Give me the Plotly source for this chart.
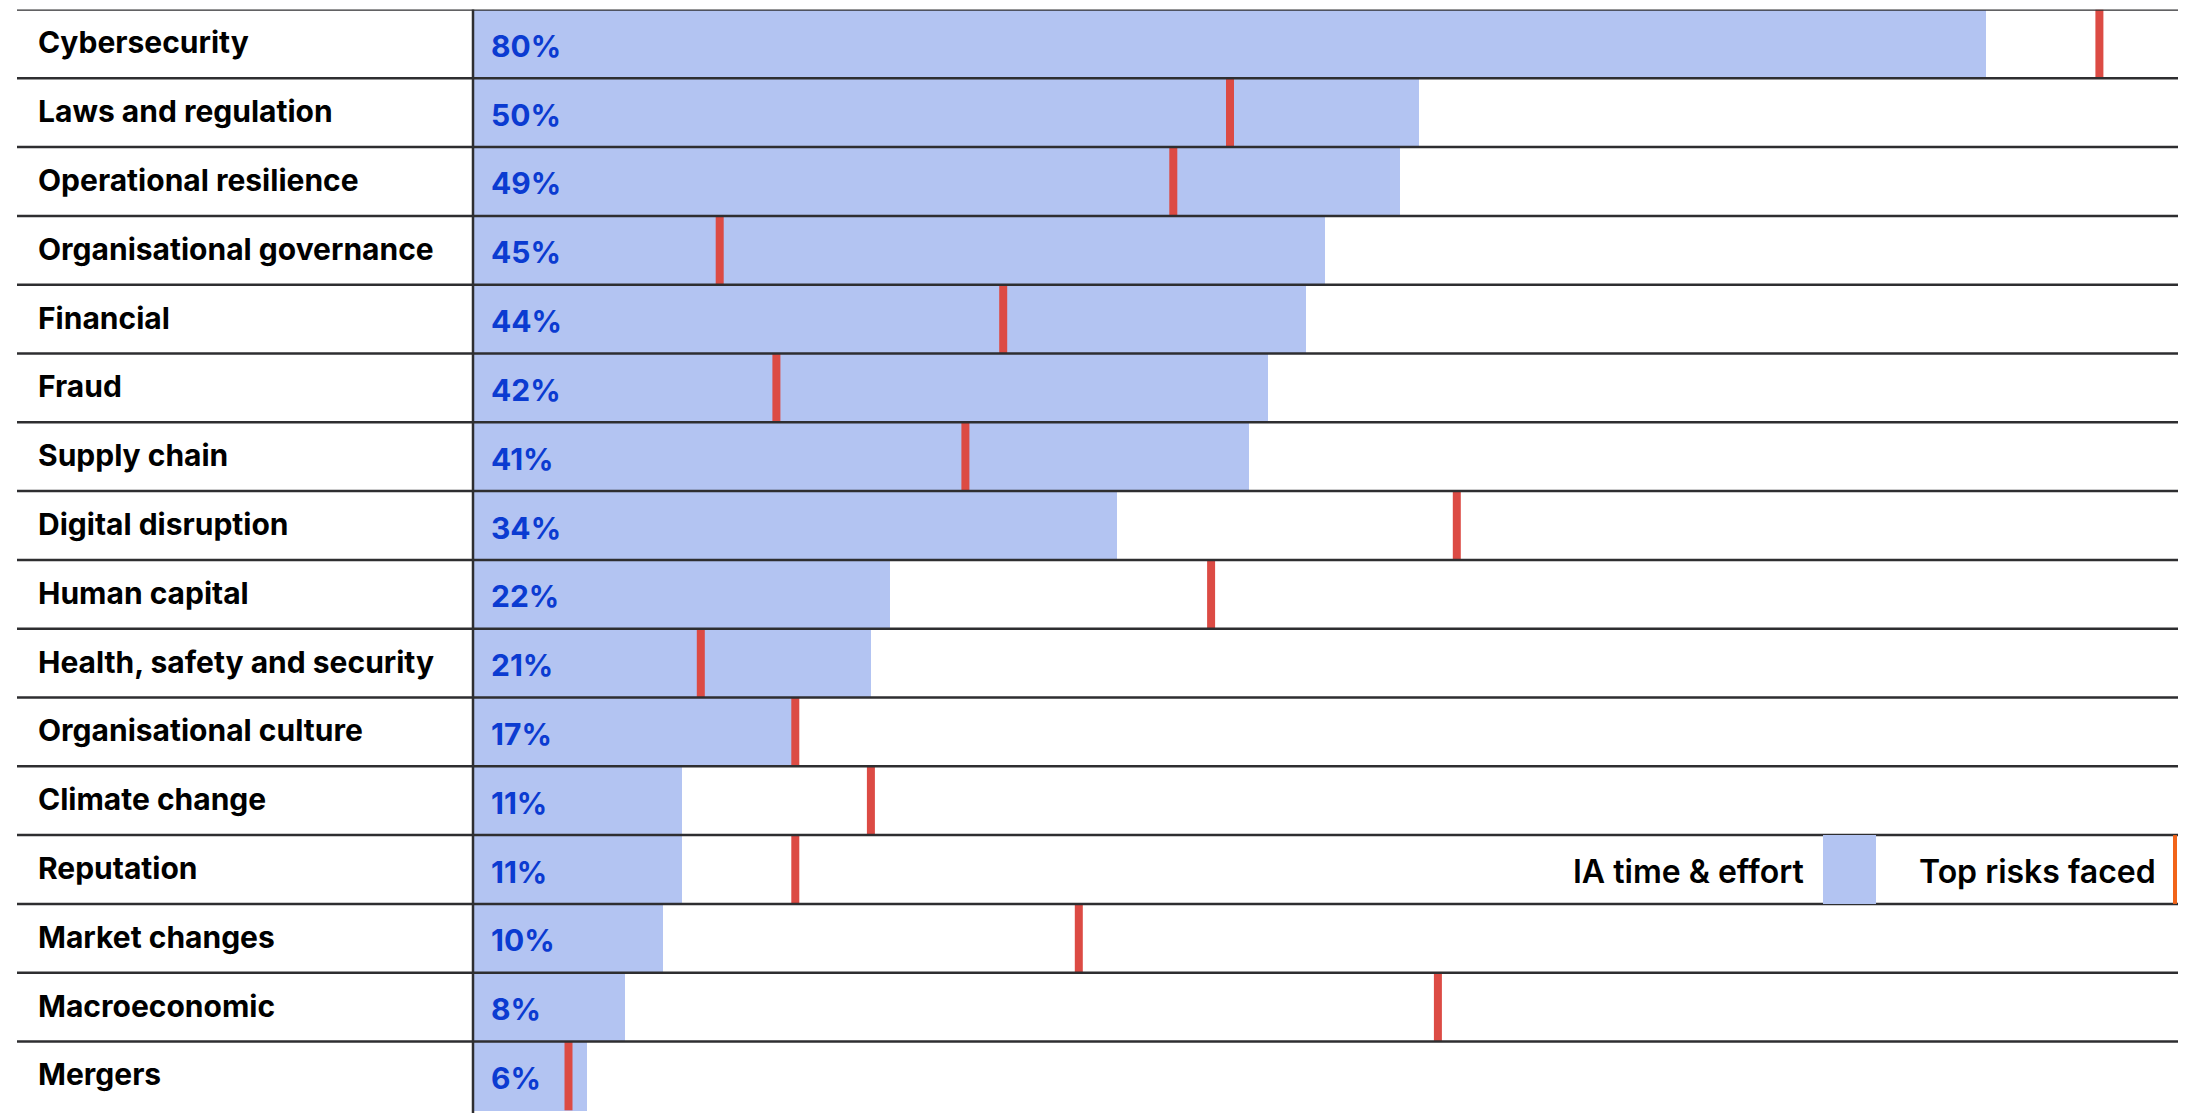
import plotly.graph_objects as go

# Risk areas, top to bottom
categories = [
    "Cybersecurity",
    "Laws and regulation",
    "Operational resilience",
    "Organisational governance",
    "Financial",
    "Fraud",
    "Supply chain",
    "Digital disruption",
    "Human capital",
    "Health, safety and security",
    "Organisational culture",
    "Climate change",
    "Reputation",
    "Market changes",
    "Macroeconomic",
    "Mergers",
]

# Share of internal audit time & effort (%)
ia_effort = [80, 50, 49, 45, 44, 42, 41, 34, 22, 21, 17, 11, 11, 10, 8, 6]

# Share naming the area among the top risks faced (%)
top_risks = [86, 40, 37, 13, 28, 16, 26, 52, 39, 12, 17, 21, 17, 32, 51, 5]

W, H = 2186, 1113
PLOT_LEFT, PLOT_RIGHT = 474, 2178
TOP = 9.5
ROW_H = 68.8
PX_PER_PCT = 18.9

BAR_COLOR = "#b3c4f2"
MARK_COLOR = "#dc4b44"
LEGEND_MARK = "#f26419"
LINE_COLOR = "#2e2e30"
PCT_COLOR = "#0b3bd1"
FONT = "Inter"

rows = list(range(len(categories)))
x_max = (PLOT_RIGHT - PLOT_LEFT) / PX_PER_PCT
y_bottom = -0.5 + (H - TOP) / ROW_H


def px(x):
    return x / W


fig = go.Figure()

# IA time & effort bars
fig.add_trace(go.Bar(
    x=ia_effort,
    y=rows,
    orientation="h",
    width=1.0,
    marker=dict(color=BAR_COLOR, line=dict(width=0)),
    hoverinfo="skip",
    showlegend=False,
))

# Top-risk tick marks spanning each row
mx, my = [], []
for i, v in zip(rows, top_risks):
    mx += [v, v, None]
    my += [i - 0.5, i + 0.5, None]
fig.add_trace(go.Scatter(
    x=mx, y=my, mode="lines",
    line=dict(color=MARK_COLOR, width=8),
    hoverinfo="skip", showlegend=False,
))

shapes = []
# Row separators
for i in rows:
    shapes.append(dict(
        type="line", xref="paper", yref="y",
        x0=px(17), x1=px(PLOT_RIGHT), y0=i - 0.5, y1=i - 0.5,
        line=dict(color=LINE_COLOR, width=2.5), layer="above",
    ))
# Baseline of the bars
shapes.append(dict(
    type="line", xref="paper", yref="paper",
    x0=px(473), x1=px(473), y0=0, y1=1 - TOP / H,
    line=dict(color=LINE_COLOR, width=2.5), layer="above",
))

annotations = []
for i, name, v in zip(rows, categories, ia_effort):
    annotations.append(dict(
        x=px(36), xref="paper", y=i, yref="y",
        text=name, showarrow=False, xanchor="left", yanchor="middle",
        yshift=1.5,
        font=dict(family=FONT, size=30, color="#000000", weight=700),
    ))
    annotations.append(dict(
        x=px(489), xref="paper", y=i, yref="y",
        text=f"{v}%", showarrow=False, xanchor="left", yanchor="middle",
        yshift=-2,
        font=dict(family=FONT, size=30, color=PCT_COLOR, weight=700),
    ))

# Legend placed inside the Reputation row
leg_row = categories.index("Reputation")
shapes.append(dict(
    type="rect", xref="paper", yref="y",
    x0=px(1823), x1=px(1876), y0=leg_row - 0.5, y1=leg_row + 0.5,
    fillcolor=BAR_COLOR, line=dict(width=0), layer="above",
))
shapes.append(dict(
    type="line", xref="paper", yref="y",
    x0=px(2175), x1=px(2175), y0=leg_row - 0.5, y1=leg_row + 0.5,
    line=dict(color=LEGEND_MARK, width=4), layer="above",
))
annotations.append(dict(
    x=px(1806), xref="paper", y=leg_row, yref="y",
    text="IA time & effort", showarrow=False, xanchor="right", yanchor="middle",
    yshift=-2,
    font=dict(family=FONT, size=32, color="#000000", weight=600),
))
annotations.append(dict(
    x=px(2158), xref="paper", y=leg_row, yref="y",
    text="Top risks faced", showarrow=False, xanchor="right", yanchor="middle",
    yshift=-2,
    font=dict(family=FONT, size=32, color="#000000", weight=600),
))

fig.update_layout(
    width=W, height=H,
    margin=dict(l=0, r=0, t=0, b=0),
    paper_bgcolor="white", plot_bgcolor="white",
    xaxis=dict(domain=[px(PLOT_LEFT), px(PLOT_RIGHT)], range=[0, x_max],
               visible=False, fixedrange=True),
    yaxis=dict(domain=[0, 1 - TOP / H], range=[y_bottom, -0.5],
               visible=False, fixedrange=True),
    shapes=shapes,
    annotations=annotations,
    bargap=0,
    showlegend=False,
)

fig.write_html("out.html")
